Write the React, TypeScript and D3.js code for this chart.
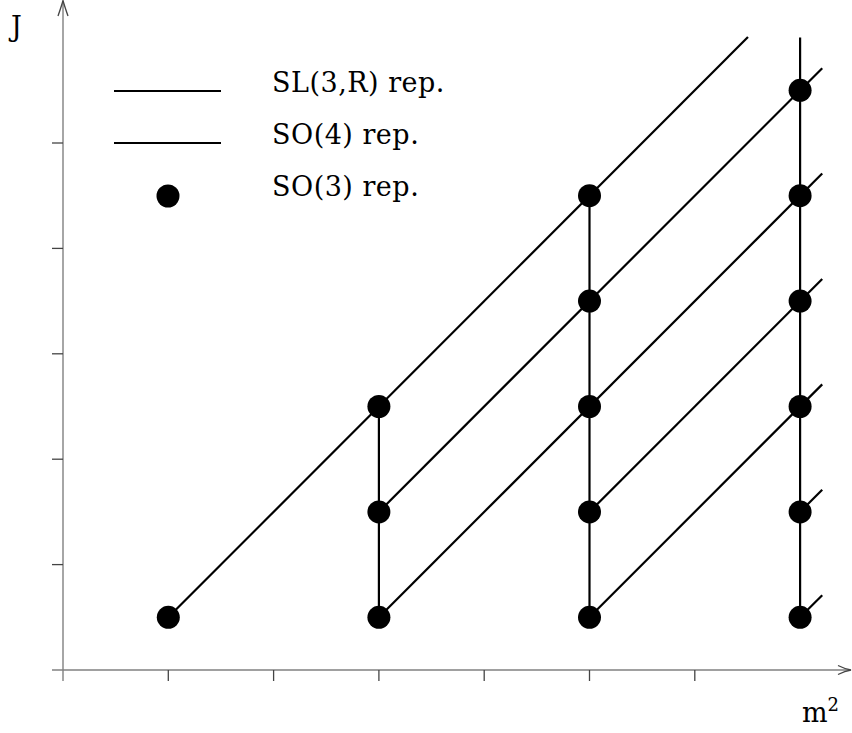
import React from "react";
import * as d3 from "d3";

// ---- data ----
const xTickValues = [1, 2, 3, 4, 5, 6];
const yTickValues = [1, 2, 3, 4, 5];

// SO(3) representations: m² position and J value
const so3M = [1, 3, 3, 3, 5, 5, 5, 5, 5, 7, 7, 7, 7, 7, 7];
const so3J = [0.5, 0.5, 1.5, 2.5, 0.5, 1.5, 2.5, 3.5, 4.5, 0.5, 1.5, 2.5, 3.5, 4.5, 5.5];

// SO(4) reps: diagonal lines (start m², start J, end m²)
const so4StartM = [1, 3, 3, 5, 5, 7, 7];
const so4StartJ = [0.5, 1.5, 0.5, 1.5, 0.5, 1.5, 0.5];
const so4EndM = [6.505, 7.21, 7.21, 7.21, 7.21, 7.21, 7.21];

// SL(3,R) reps: vertical lines (m², J from, J to)
const sl3M = [3, 5, 7];
const sl3From = [0.5, 0.5, 0.5];
const sl3To = [2.5, 4.5, 6.0];

const legendLabels = ["SL(3,R) rep.", "SO(4) rep.", "SO(3) rep."];

export default function App() {
  const W = 852;
  const H = 733;
  const x = d3.scaleLinear().domain([0, 7]).range([63, 63 + 7 * 105.3]);
  const y = d3.scaleLinear().domain([0, 6]).range([670, 670 - 6 * 105.4]);
  const line = d3.line<[number, number]>().x((d) => x(d[0])).y((d) => y(d[1]));

  const font = "'DejaVu Serif', serif";
  const axisColor = "#808080";
  const x0 = x(0);
  const y0 = y(0);

  return (
    <svg
      width={W}
      height={H}
      style={{ position: "absolute", left: 0, top: 0, background: "#fff" }}
    >
      <rect x={0} y={0} width={W} height={H} fill="#fff" />
      {/* axes */}
      <line x1={52} y1={y0} x2={850} y2={y0} stroke={axisColor} strokeWidth={1.4} />
      <line x1={x0} y1={681} x2={x0} y2={1} stroke={axisColor} strokeWidth={1.4} />
      {/* arrowheads */}
      <path
        d={`M${x0 - 5},16 Q${x0 - 1.5},6 ${x0},0.5 Q${x0 + 1.5},6 ${x0 + 5},16`}
        fill="none"
        stroke="#444"
        strokeWidth={1.3}
      />
      <path
        d={`M838,${y0 - 4.5} Q845,${y0 - 1} 851,${y0} Q845,${y0 + 1} 838,${y0 + 4.5}`}
        fill="none"
        stroke="#444"
        strokeWidth={1.3}
      />
      {/* ticks */}
      {xTickValues.map((t) => (
        <line key={"xt" + t} x1={x(t)} x2={x(t)} y1={y0} y2={681} stroke="#444" strokeWidth={1.3} />
      ))}
      {yTickValues.map((t) => (
        <line key={"yt" + t} x1={52} x2={x0} y1={y(t)} y2={y(t)} stroke="#444" strokeWidth={1.3} />
      ))}
      {/* SL(3,R) vertical lines */}
      {sl3M.map((m, i) => (
        <path
          key={"sl" + i}
          d={line([[m, sl3From[i]], [m, sl3To[i]]]) || ""}
          stroke="#000"
          strokeWidth={2.2}
          fill="none"
        />
      ))}
      {/* SO(4) diagonal lines */}
      {so4StartM.map((m, i) => (
        <path
          key={"so4" + i}
          d={
            line([
              [m, so4StartJ[i]],
              [so4EndM[i], so4StartJ[i] + (so4EndM[i] - m)],
            ]) || ""
          }
          stroke="#000"
          strokeWidth={2.2}
          fill="none"
        />
      ))}
      {/* SO(3) points */}
      {so3M.map((m, i) => (
        <circle key={"p" + i} cx={x(m)} cy={y(so3J[i])} r={11.5} fill="#000" />
      ))}
      {/* legend */}
      <line x1={114} x2={221} y1={91} y2={91} stroke="#000" strokeWidth={2.2} />
      <line x1={114} x2={221} y1={143} y2={143} stroke="#000" strokeWidth={2.2} />
      <circle cx={168} cy={196} r={11.5} fill="#000" />
      {legendLabels.map((s, i) => (
        <text
          key={s}
          x={272}
          y={92 + i * 52}
          fontFamily={font}
          fontSize={27}
          letterSpacing={0.5}
          fill="#000"
        >
          {s}
        </text>
      ))}
      {/* axis labels */}
      <text x={11} y={36} fontFamily={font} fontSize={27} fill="#000">J</text>
      <text x={802} y={722} fontFamily={font} fontSize={27} fill="#000">
        m<tspan fontSize={18} dy={-11}>2</tspan>
      </text>
    </svg>
  );
}
